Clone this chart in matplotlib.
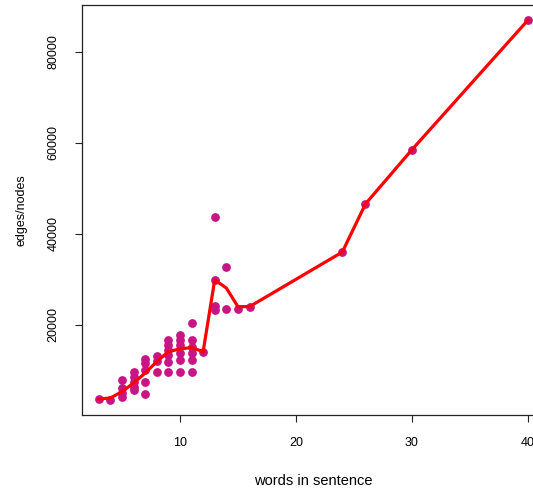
import numpy as np
import matplotlib
matplotlib.use("Agg")
import matplotlib.pyplot as plt

plt.rcParams['font.family'] = ['Liberation Sans', 'DejaVu Sans']

# words per sentence vs edges/nodes
words = [3, 4,
         5, 5, 5, 5,
         6, 6, 6, 6, 6,
         7, 7, 7, 7, 7,
         8, 8, 8,
         9, 9, 9, 9, 9, 9,
         10, 10, 10, 10, 10, 10,
         11, 11, 11, 11, 11, 11,
         12,
         13, 13, 13, 13,
         14, 14,
         15, 16, 24, 26, 30, 40]
edges = [3700, 3500,
         7900, 6100, 5000, 4100,
         9700, 8600, 7500, 6400, 5700,
         12500, 11500, 10000, 7500, 4800,
         13200, 12000, 9700,
         16700, 15600, 14500, 13400, 11900, 9700,
         17800, 16700, 15600, 13800, 12300, 9700,
         20400, 16700, 15200, 13800, 12300, 9700,
         14100,
         43700, 29900, 24200, 23300,
         32800, 23400,
         23400, 24000, 36000, 46600, 58500, 87000]

# red trend line
line_x = [3, 4, 5, 6, 7, 8, 9, 10, 11, 12, 13, 14, 15, 16, 24, 26, 30, 40]
line_y = [3700, 3900, 5300, 7200, 9400, 11900, 14100, 14700, 15000, 14100,
          29900, 28100, 24000, 24000, 36000, 46600, 58500, 87000]

fig = plt.figure(figsize=(5.33, 4.90), dpi=100)
# R-like plot region; the right edge runs past the image
ax = fig.add_axes([0.1531, 0.153, 0.8694, 0.8367])

ax.scatter(words, edges, s=40, color='#C71585', zorder=2, linewidths=0)
ax.plot(line_x, line_y, color='red', lw=2.3, zorder=3)

# R default 4% axis extension
xr = max(words) - min(words)
yr = max(edges) - min(edges)
ax.set_xlim(min(words) - 0.04 * xr, max(words) + 0.04 * xr)
ax.set_ylim(min(edges) - 0.04 * yr, max(edges) + 0.04 * yr)

ax.set_xticks([10, 20, 30, 40])
ax.set_yticks([20000, 40000, 60000, 80000])
ax.set_yticklabels(['20000', '40000', '60000', '80000'], rotation=90, va='center')
ax.tick_params(axis='both', direction='out', length=5, width=0.8, labelsize=9,
               color='#222222')
ax.tick_params(axis='x', pad=11)
ax.tick_params(axis='y', pad=11)

for sp in ax.spines.values():
    sp.set_color('#222222')
    sp.set_linewidth(0.9)

ax.set_xlabel('words in sentence', fontsize=10.5, labelpad=18)
ax.set_ylabel('edges/nodes', fontsize=9, labelpad=14)

fig.savefig('out.png', dpi=100)
